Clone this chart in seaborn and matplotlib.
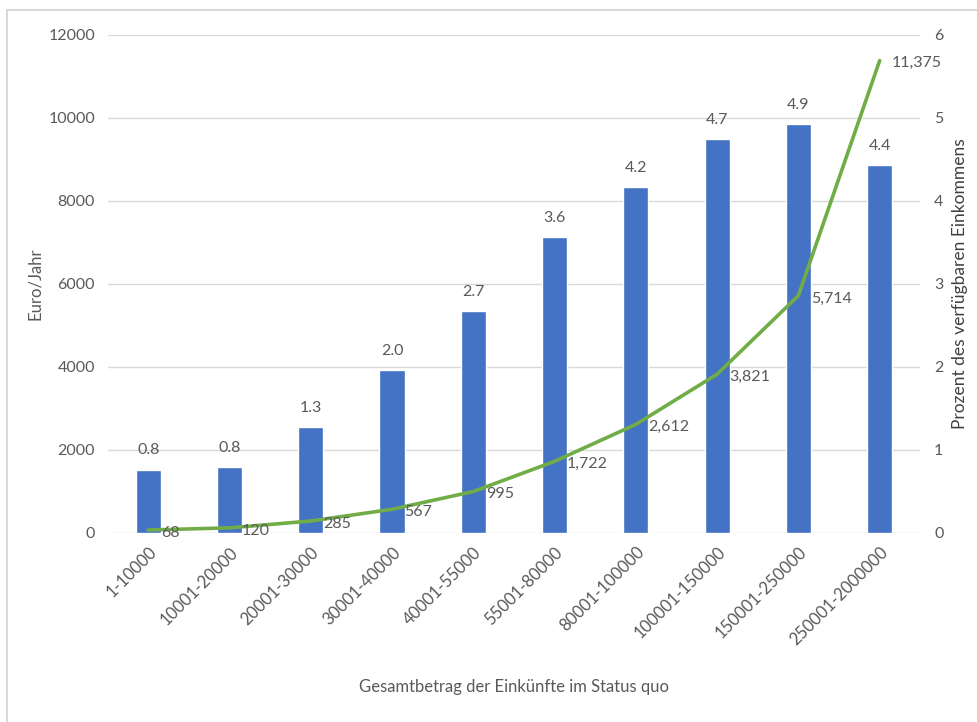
import numpy as np
import matplotlib
matplotlib.use("Agg")
import matplotlib.pyplot as plt
import seaborn as sns
import pandas as pd
from matplotlib.patches import Rectangle

# data
categories = ["1-10000", "10001-20000", "20001-30000", "30001-40000", "40001-55000",
              "55001-80000", "80001-100000", "100001-150000", "150001-250000", "250001-2000000"]
prozent = [0.76, 0.79, 1.27, 1.96, 2.67, 3.56, 4.16, 4.74, 4.92, 4.43]
euro = [68, 120, 285, 567, 995, 1722, 2612, 3821, 5714, 11375]

sns.set_style("white")
plt.rcParams["font.family"] = ["Lato", "DejaVu Sans"]
txt = "#595959"

df = pd.DataFrame({"kat": categories, "prozent": prozent, "euro": euro})

fig = plt.figure(figsize=(9.78, 7.22), dpi=100)
ax1 = fig.add_axes([0.110, 0.262, 0.831, 0.690])
ax2 = ax1.twinx()

# bars on the right axis (percent)
sns.barplot(data=df, x="kat", y="prozent", ax=ax2, color="#4472C4", width=0.31,
            saturation=1, zorder=2)
ax2.bar_label(ax2.containers[0], fmt="%.1f", padding=9, fontsize=11.5, color=txt)
ax2.set_ylim(0, 6)
ax2.set_yticks(range(0, 7))
ax2.grid(axis="y", color="#d9d9d9", linewidth=1, zorder=0)
ax2.set_axisbelow(True)

# line on the left axis (euro)
pos = np.arange(len(categories))
sns.lineplot(x=pos, y=df["euro"], ax=ax1, color="#70AD47", linewidth=2.6)
for x, v in zip(pos, euro):
    ax1.annotate(f"{v:,}", (x, v), xytext=(9, -2), textcoords="offset points",
                 ha="left", va="center", fontsize=11.5, color=txt)
ax1.set_ylim(0, 12000)
ax1.set_yticks(range(0, 12001, 2000))
ax1.set_xlim(-0.5, len(categories) - 0.5)

ax1.set_zorder(ax2.get_zorder() + 1)
ax1.patch.set_visible(False)

ax1.set_xticks(pos)
ax1.set_xticklabels(categories, rotation=45, ha="right", rotation_mode="anchor",
                    fontsize=12, color=txt)
ax2.set_xlabel("")
ax1.set_xlabel("Gesamtbetrag der Einkünfte im Status quo", fontsize=12, color=txt,
               labelpad=22)
ax1.set_ylabel("Euro/Jahr", fontsize=12, color=txt, labelpad=4)
ax2.set_ylabel("Prozent des verfügbaren Einkommens", fontsize=12.5, color="#404040",
               labelpad=6)

for ax in (ax1, ax2):
    ax.tick_params(length=0, labelsize=11.5, labelcolor=txt)
    for s in ax.spines.values():
        s.set_visible(False)
ax1.tick_params(axis="y", pad=9)
ax2.tick_params(axis="y", pad=10)
ax1.tick_params(axis="x", pad=8, labelsize=12)

fig.patches.append(Rectangle((0.007, -0.01), 1.0, 0.996, transform=fig.transFigure,
                             fill=False, edgecolor="#d9d9d9", linewidth=1.5))

fig.savefig("out.png", dpi=100)
